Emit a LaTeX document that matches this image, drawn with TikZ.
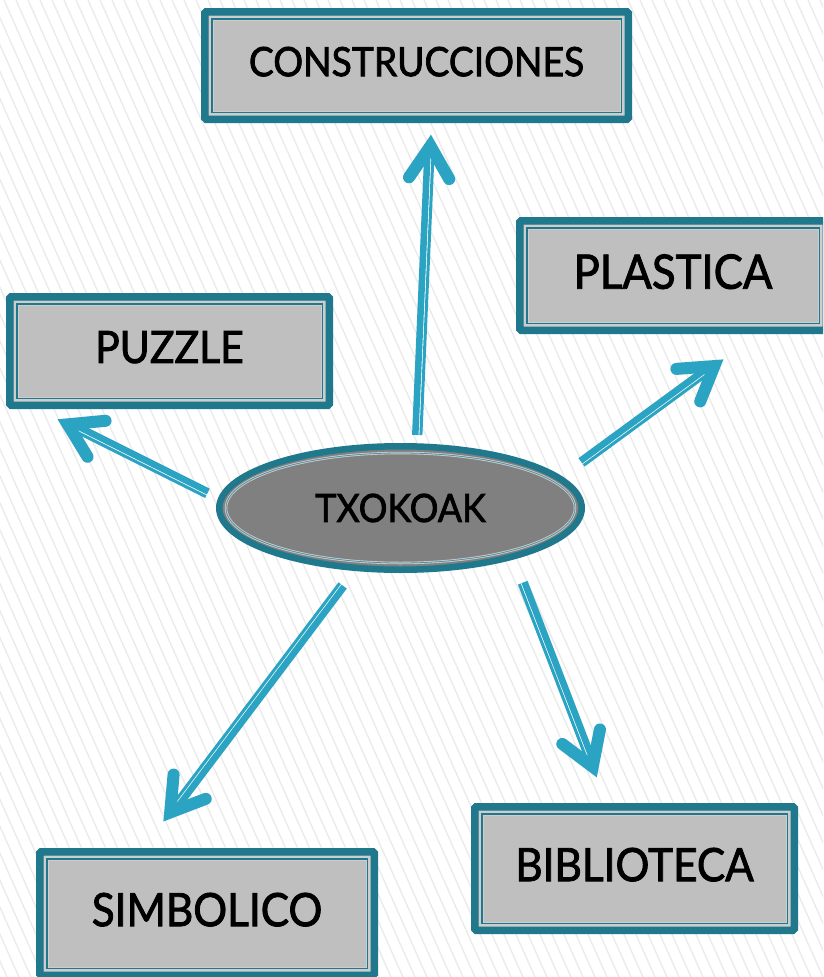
\documentclass[tikz,border=0pt]{standalone}
\usepackage{fontspec}
\setmainfont{Lato}
\newfontfamily\lbl{Lato}[FakeBold=1.8, FakeStretch=0.92]
\usetikzlibrary{shapes.geometric,calc}
\definecolor{boxteal}{RGB}{31,120,140}
\definecolor{arrowteal}{RGB}{43,164,196}
\definecolor{boxfill}{RGB}{191,191,191}
\definecolor{bandgray}{RGB}{205,205,205}
\definecolor{ellfill}{RGB}{128,128,128}
\definecolor{hatch}{RGB}{234,234,234}
\newcommand{\txarrow}[4]{%
  \path ($(#2)!12pt!(#1)$) coordinate (#2v);
  \draw[shadowstyle, line width=6pt] ($(#1)!3pt!#4:(#2)$) -- ($(#2v)!3pt!#3:(#1)$);
  \draw[shadowstyle, line width=12pt, line cap=round] ($(#2v)!38pt!32:(#1)$) -- (#2v) -- ($(#2v)!38pt!-32:(#1)$);
  \draw[shaftthin] ($(#1)!2.9pt!#3:(#2)$) -- ($(#2v)!2.9pt!#4:(#1)$);
  \draw[shaftthick] ($(#1)!2.7pt!#4:(#2)$) -- ($(#2v)!2.7pt!#3:(#1)$);
  \draw[headstyle] ($(#2v)!38pt!32:(#1)$) -- (#2v) -- ($(#2v)!38pt!-32:(#1)$);
}
\begin{document}
\begin{tikzpicture}[x=1pt,y=-1pt,
  boxnode/.style={rectangle, draw=boxteal, line width=7.5pt, fill=boxfill,
    rounded corners=1.5pt, inner sep=0pt, text depth=8pt, text=black,
    path picture={
      \draw[bandgray, line width=5pt, sharp corners]
        ([shift={(6.25pt,-6.25pt)}]path picture bounding box.north west) rectangle
        ([shift={(-6.25pt,6.25pt)}]path picture bounding box.south east);
      \draw[boxteal, line width=1.5pt, sharp corners]
        ([shift={(7pt,-7pt)}]path picture bounding box.north west) rectangle
        ([shift={(-7pt,7pt)}]path picture bounding box.south east);
    }},
  ellnode/.style={ellipse, draw=boxteal, line width=6.5pt, fill=ellfill,
    inner sep=0pt, text=black},
  shadowstyle/.style={black, opacity=0.07, shift={(2pt,-3pt)}},
  shaftthick/.style={arrowteal, line width=6.5pt},
  shaftthin/.style={arrowteal, line width=3pt},
  headstyle/.style={arrowteal, line width=12pt, line cap=round, line join=miter}
]
\useasboundingbox (0,0) rectangle (823,977);
\clip (0,0) rectangle (823,977);
\fill[white] (0,0) rectangle (823,977);
\foreach \i in {-440,-428,...,830}{
  \draw[hatch, line width=1.3pt] (\i,0) -- ({\i+435},977);
}

% nodes
\node[boxnode, minimum width=423.5pt, minimum height=107.5pt,
  font=\lbl\fontsize{40.5}{46}\selectfont] (constr) at (416.5,65.5) {CONSTRUCCIONES};
\node[boxnode, minimum width=306.5pt, minimum height=109.5pt,
  font=\lbl\fontsize{47.5}{54}\selectfont] (plast) at (673,275.5) {PLASTICA};
\node[boxnode, minimum width=319.5pt, minimum height=108.5pt,
  font=\lbl\fontsize{44.5}{50}\selectfont] (puzzle) at (169.5,351) {PUZZLE};
\node[boxnode, minimum width=334.5pt, minimum height=123.5pt,
  font=\lbl\fontsize{46}{52}\selectfont] (simb) at (207,913.5) {SIMBOLICO};
\node[boxnode, minimum width=319.5pt, minimum height=123.5pt,
  font=\lbl\fontsize{46}{52}\selectfont] (biblio) at (634.5,868.5) {BIBLIOTECA};
\node[ellnode, minimum width=362.5pt, minimum height=123.5pt,
  font=\lbl\fontsize{39}{44}\selectfont,
  path picture={
    \draw[bandgray, line width=2.5pt] (path picture bounding box.center)
      ellipse [x radius=174.5pt, y radius=55pt];
    \draw[boxteal!80, line width=0.8pt] (path picture bounding box.center)
      ellipse [x radius=174.5pt, y radius=55pt];
  }] (txo) at (400.5,508) {TXOKOAK};

% arrow end points
\coordinate (s1) at (418,435);  \coordinate (t1) at (431,134);
\coordinate (s2) at (207,494);  \coordinate (t2) at (57,419);
\coordinate (s3) at (582,463);  \coordinate (t3) at (724,359);
\coordinate (s4) at (342,585);  \coordinate (t4) at (163,822);
\coordinate (s5) at (522,583);  \coordinate (t5) at (597,778);

\txarrow{s1}{t1}{-90}{90}
\txarrow{s2}{t2}{90}{-90}
\txarrow{s3}{t3}{-90}{90}
\txarrow{s4}{t4}{-90}{90}
\txarrow{s5}{t5}{-90}{90}
\end{tikzpicture}
\end{document}
